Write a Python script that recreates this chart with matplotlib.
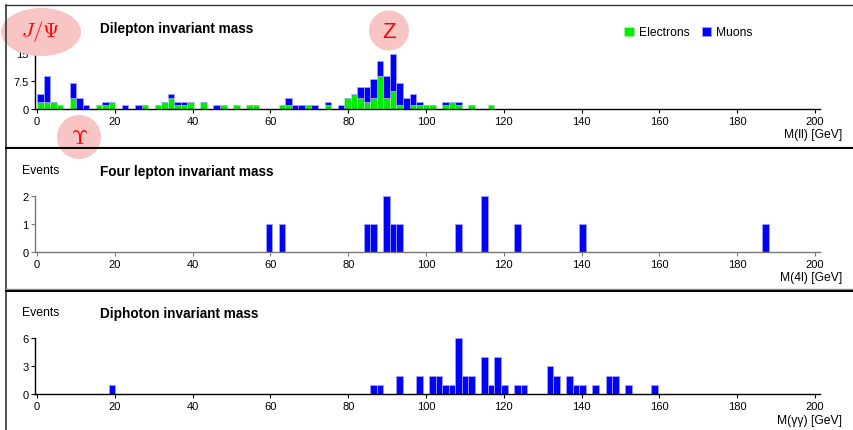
import numpy as np
import matplotlib.pyplot as plt
from matplotlib.patches import Ellipse
from matplotlib.lines import Line2D

plt.rcParams['font.family'] = ['Liberation Sans', 'DejaVu Sans']
plt.rcParams['mathtext.fontset'] = 'cm'

# Histogram bin width in GeV (bins start at 0)
BIN_W = 1.68

# Dilepton invariant mass: bin index, electrons, muons
ll_bins = [0, 1, 2, 3, 5, 6, 7, 9, 10, 11, 13, 15, 16, 18, 19, 20, 21, 22, 23, 25,
           27, 28, 30, 32, 33, 37, 38, 39, 40, 41, 42, 44, 46, 47, 48, 49, 50, 51, 52, 53,
           54, 55, 56, 57, 58, 59, 60, 62, 63, 64, 66, 69]
ll_electrons = [2, 2, 2, 1, 3, 0, 0, 1, 1, 2, 0, 0, 1, 1, 2, 3, 1, 1, 2, 2,
                0, 1, 1, 1, 1, 1, 1, 0, 0, 1, 0, 1, 0, 3, 4, 3, 2, 3, 9, 3,
                5, 1, 0, 1, 1, 1, 1, 1, 2, 1, 1, 1]
ll_muons = [2, 7, 0, 0, 4, 3, 1, 0, 1, 0, 1, 1, 0, 0, 0, 1, 1, 1, 0, 0,
            1, 0, 0, 0, 0, 0, 2, 1, 1, 0, 1, 1, 1, 0, 0, 3, 4, 5, 4, 6,
            10, 6, 3, 3, 1, 0, 0, 1, 0, 1, 0, 0]

# Four lepton invariant mass
l4_bins = [35, 37, 50, 51, 53, 54, 55, 64, 68, 73, 83, 111]
l4_counts = [1, 1, 1, 1, 2, 1, 1, 1, 2, 1, 1, 1]

# Diphoton invariant mass
gg_bins = [11, 51, 52, 55, 58, 60, 61, 62, 63, 64, 65, 66, 68, 69, 70, 71, 73, 74,
           78, 79, 81, 82, 83, 85, 87, 88, 90, 94]
gg_counts = [1, 1, 1, 2, 2, 2, 2, 1, 1, 6, 2, 2, 4, 1, 4, 1, 1, 1,
             3, 2, 2, 1, 1, 1, 2, 2, 1, 1]

W, H = 854, 431
fig = plt.figure(figsize=(W / 100, H / 100), dpi=100)
fig.patch.set_facecolor('white')

def fx(px):
    return px / W

def fy(py):
    return 1 - py / H

PX_PER_GEV = 3.89
X0 = 37 - 0.4 * PX_PER_GEV
AW = 201.8 * PX_PER_GEV

def make_axes(y_top, y_bot, ymax, yticks, ylabels, axcol):
    ax = fig.add_axes([fx(X0), fy(y_bot), AW / W, (y_bot - y_top) / H])
    ax.set_xlim(-0.4, 201.4)
    ax.set_ylim(0, ymax)
    for s in ['top', 'right']:
        ax.spines[s].set_visible(False)
    for s in ['left', 'bottom']:
        ax.spines[s].set_color(axcol)
        ax.spines[s].set_linewidth(1.0)
    ax.set_xticks(range(0, 201, 20))
    ax.set_yticks(yticks)
    ax.set_yticklabels(ylabels)
    ax.tick_params(direction='out', length=3, width=0.8, pad=2, labelsize=8,
                   colors='black')
    ax.tick_params(axis='both', color=axcol)
    ax.patch.set_alpha(0)
    return ax

blue = '#0000ff'
green = '#00ee00'

ll_x = np.array(ll_bins) * BIN_W
l4_x = np.array(l4_bins) * BIN_W
gg_x = np.array(gg_bins) * BIN_W

# top panel
ax1 = make_axes(54.5, 110, 15, [0, 7.5, 15], ['0', '7.5', '15'], 'black')
ax1.bar(ll_x, ll_electrons, width=BIN_W, align='edge', color=green,
        edgecolor='#a0ffa0', linewidth=0.6, label='Electrons', clip_on=False)
ax1.bar(ll_x, ll_muons, width=BIN_W, align='edge', bottom=ll_electrons, color=blue,
        edgecolor='#a0a0ff', linewidth=0.6, label='Muons', clip_on=False)
ax1.legend(loc='center left', bbox_to_anchor=(0.75, 1.38), ncol=2, frameon=False,
           fontsize=8.7, handlelength=0.8, handleheight=0.8, handletextpad=0.4,
           columnspacing=1.0, borderpad=0, borderaxespad=0)

# middle panel
ax2 = make_axes(196.7, 252.7, 2, [0, 1, 2], ['0', '1', '2'], '#777777')
ax2.bar(l4_x, l4_counts, width=BIN_W, align='edge', color=blue,
        edgecolor='#a0a0ff', linewidth=0.6)

# bottom panel
ax3 = make_axes(339, 395.3, 6, [0, 3, 6], ['0', '3', '6'], 'black')
ax3.bar(gg_x, gg_counts, width=BIN_W, align='edge', color=blue,
        edgecolor='#a0a0ff', linewidth=0.6)

# titles and labels
titles = ['Dilepton invariant mass', 'Four lepton invariant mass', 'Diphoton invariant mass']
title_y = [29, 172, 314]
for t, y in zip(titles, title_y):
    fig.text(fx(100), fy(y), t, fontsize=9.8, fontweight='bold', va='center', ha='left')

for y in [170.5, 313]:
    fig.text(fx(22), fy(y), 'Events', fontsize=8.8, va='center', ha='left')

xlabels = ['M(ll) [GeV]', 'M(4l) [GeV]', 'M(γγ) [GeV]']
xlabel_y = [135, 278, 421]
for t, y in zip(xlabels, xlabel_y):
    fig.text(fx(842), fy(y), t, fontsize=8.7, va='center', ha='right')

# overlay for frames and resonance markers
ov = fig.add_axes([0, 0, 1, 1])
ov.set_xlim(0, W)
ov.set_ylim(H, 0)
ov.axis('off')

pink = '#f9c4c4'
ov.add_patch(Ellipse((41, 33), 80, 48, facecolor=pink, edgecolor='none', zorder=1))
ov.add_patch(Ellipse((389, 31.5), 40, 40, facecolor=pink, edgecolor='none', zorder=1))
ov.add_patch(Ellipse((79, 138), 44, 44, facecolor=pink, edgecolor='none', zorder=1))
ov.text(41, 32, r'$J/\Psi$', color='red', fontsize=15, ha='center', va='center', zorder=2)
ov.text(389, 32, 'Z', color='red', fontsize=16, ha='center', va='center', zorder=2)
ov.text(80, 139, r'$\Upsilon$', color='red', fontsize=15, ha='center', va='center', zorder=2)

# panel frames
ov.add_line(Line2D([6.5, W], [6, 6], color='#333333', lw=1.0, zorder=3))
ov.add_line(Line2D([6.5, 6.5], [6, H], color='#333333', lw=1.2, zorder=3))
for y in [147.5, 290]:
    ov.add_line(Line2D([6.5, W], [y, y], color='#888888', lw=1.0, zorder=3))
    ov.add_line(Line2D([6.5, W], [y + 1.7, y + 1.7], color='black', lw=1.4, zorder=3))

fig.savefig('out.png', dpi=100)
